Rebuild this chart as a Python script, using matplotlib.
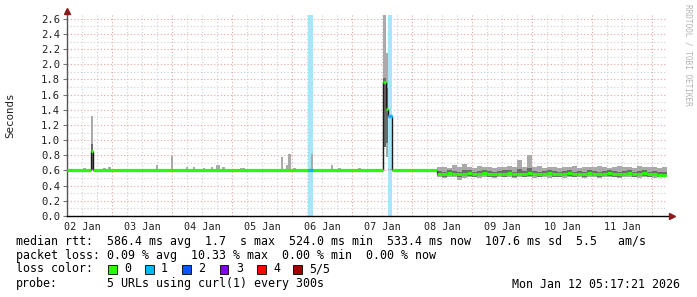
"""SmokePing style latency chart: 10 days of median rtt with smoke and loss colours."""
import numpy as np
import matplotlib.pyplot as plt
from matplotlib.patches import Rectangle

W, H = 697, 297
MONO = "DejaVu Sans Mono"

# --- time axis: days since 02 Jan 00:00 ---
t_start, t_end = 0.245, 10.245
day_labels = ["02 Jan", "03 Jan", "04 Jan", "05 Jan", "06 Jan",
              "07 Jan", "08 Jan", "09 Jan", "10 Jan", "11 Jan"]

# --- quiet stretch (seconds) ---
flat_t0 = [0.245, 0.673, 5.658]
flat_t1 = [0.640, 5.505, 6.412]
flat_med = 0.603
flat_lo, flat_hi = 0.594, 0.614

# small bumps of the upper smoke during the quiet stretch
bump_t0 = [0.507, 0.840, 0.923, 1.423, 1.728, 1.978, 2.228, 2.340, 2.507, 2.645,
           2.728, 2.828, 3.128, 3.807, 3.895, 3.928, 4.012, 4.095, 4.312, 4.395,
           4.645, 4.762, 4.928, 5.095, 5.262]
bump_t1 = [0.562, 0.895, 0.973, 1.728, 1.757, 2.007, 2.262, 2.383, 2.545, 2.673,
           2.795, 2.878, 3.212, 3.840, 3.928, 3.973, 4.062, 4.150, 4.340, 4.507,
           4.678, 4.817, 4.983, 5.150, 5.345]
bump_top = [0.628, 0.628, 0.645, 0.620, 0.670, 0.790, 0.645, 0.645, 0.628, 0.650,
            0.670, 0.650, 0.630, 0.780, 0.670, 0.820, 0.628, 0.625, 0.820, 0.625,
            0.670, 0.628, 0.625, 0.628, 0.625]

# spikes: median, dark smoke, light smoke, loss colour index
spike_t0 = [0.640, 5.505, 5.560, 5.600]
spike_t1 = [0.673, 5.560, 5.600, 5.658]
spike_med = [0.855, 1.770, 1.410, 1.320]
spike_dlo = [0.600, 0.910, 0.960, 0.620]
spike_dhi = [0.950, 1.820, 1.690, 0.620]
spike_lo = [0.600, 0.910, 0.780, 0.600]
spike_hi = [1.320, 2.700, 2.150, 0.620]
spike_loss = [0, 0, 0, 1]

# loss bands (1 of 5 lost)
loss_t0 = [4.262, 5.600]
loss_t1 = [4.345, 5.658]
loss_marker_med = [0.600, 1.320]

# noisy stretch from 08 Jan, 2 h steps
noisy_from, noisy_step = 6.412, 1 / 12
noisy_med = [0.56, 0.55, 0.57, 0.56, 0.55, 0.56, 0.57, 0.55, 0.56, 0.57, 0.56, 0.55,
             0.56, 0.56, 0.57, 0.55, 0.56, 0.55, 0.57, 0.56, 0.55, 0.56, 0.57, 0.56,
             0.55, 0.56, 0.57, 0.55, 0.56, 0.55, 0.57, 0.56, 0.55, 0.56, 0.57, 0.56,
             0.55, 0.56, 0.57, 0.55, 0.56, 0.57, 0.55, 0.56, 0.54, 0.54]
noisy_dlo = [0.53, 0.52, 0.54, 0.53, 0.52, 0.53, 0.53, 0.52, 0.53, 0.54, 0.52, 0.52,
             0.53, 0.52, 0.54, 0.52, 0.53, 0.52, 0.53, 0.53, 0.52, 0.53, 0.54, 0.52,
             0.52, 0.53, 0.53, 0.52, 0.53, 0.52, 0.54, 0.53, 0.52, 0.53, 0.53, 0.52,
             0.52, 0.53, 0.54, 0.52, 0.53, 0.53, 0.52, 0.53, 0.52, 0.52]
noisy_dhi = [0.59, 0.58, 0.60, 0.59, 0.58, 0.60, 0.60, 0.58, 0.59, 0.60, 0.59, 0.58,
             0.59, 0.60, 0.60, 0.58, 0.62, 0.59, 0.63, 0.59, 0.58, 0.59, 0.60, 0.59,
             0.58, 0.59, 0.60, 0.58, 0.59, 0.58, 0.60, 0.59, 0.58, 0.59, 0.60, 0.59,
             0.58, 0.59, 0.60, 0.58, 0.59, 0.60, 0.58, 0.59, 0.58, 0.58]
noisy_lo = [0.51, 0.50, 0.52, 0.51, 0.47, 0.50, 0.51, 0.52, 0.50, 0.51, 0.52, 0.50,
            0.51, 0.52, 0.51, 0.50, 0.51, 0.52, 0.51, 0.50, 0.52, 0.51, 0.50, 0.51,
            0.52, 0.50, 0.51, 0.52, 0.51, 0.50, 0.51, 0.52, 0.50, 0.51, 0.52, 0.51,
            0.50, 0.51, 0.52, 0.51, 0.50, 0.52, 0.51, 0.50, 0.51, 0.52]
noisy_hi = [0.64, 0.65, 0.63, 0.67, 0.64, 0.68, 0.65, 0.63, 0.66, 0.64, 0.65, 0.63,
            0.64, 0.65, 0.66, 0.64, 0.74, 0.65, 0.80, 0.64, 0.66, 0.63, 0.65, 0.64,
            0.63, 0.65, 0.64, 0.66, 0.63, 0.64, 0.65, 0.64, 0.66, 0.65, 0.63, 0.64,
            0.66, 0.64, 0.65, 0.63, 0.66, 0.64, 0.65, 0.64, 0.63, 0.64]

loss_colors = ["#26ff00", "#00b8ff", "#0059ff", "#7e00ff", "#ff0000", "#a10000"]
loss_names = ["0", "1", "2", "3", "4", "5/5"]

stats_line = ("median rtt:  586.4 ms avg  1.7  s max  524.0 ms min  "
              "533.4 ms now  107.6 ms sd  5.5   am/s")
loss_line = "packet loss: 0.09 % avg  10.33 % max  0.00 % min  0.00 % now"
probe_text = "5 URLs using curl(1) every 300s"
stamp = "Mon Jan 12 05:17:21 2026"

LIGHT, DARK = "#aaaaaa", "#6b6b6b"

fig = plt.figure(figsize=(W / 100, H / 100), dpi=100)
fig.patch.set_facecolor("white")
ax = fig.add_axes([67 / W, 81 / H, 600 / W, 201 / H])
ax.set_xlim(t_start, t_end)
ax.set_ylim(0, 2.65)

# --- grid ---
for q in np.arange(1, 41) * 0.25:
    if t_start < q < t_end:
        major = abs(q - round(q)) < 1e-9
        ax.axvline(q, color="#e8a3a3" if major else "#cfcfcf",
                   lw=0.8, ls=(0, (1, 2)), zorder=0)
for v in np.arange(1, 27) * 0.1:
    major = round(v * 10) % 2 == 0
    ax.axhline(v, color="#e8a3a3" if major else "#cfcfcf",
               lw=0.8, ls=(0, (1, 2)), zorder=0)

# --- loss bands ---
for a, b in zip(loss_t0, loss_t1):
    ax.axvspan(a, b, color="#a8e4fb", lw=0, zorder=1)

# --- smoke ---
noisy_t0 = noisy_from + np.arange(len(noisy_med)) * noisy_step
noisy_t1 = noisy_t0 + noisy_step
for a, b in zip(flat_t0, flat_t1):
    ax.bar(a, flat_hi - flat_lo, width=b - a, bottom=flat_lo, align="edge",
           color=LIGHT, lw=0, zorder=2)
for a, b, top in zip(bump_t0, bump_t1, bump_top):
    ax.bar(a, top - flat_med, width=b - a, bottom=flat_med, align="edge",
           color=LIGHT, lw=0, zorder=2)
ax.bar(spike_t0, np.subtract(spike_hi, spike_lo), width=np.subtract(spike_t1, spike_t0),
       bottom=spike_lo, align="edge", color=LIGHT, lw=0, zorder=2)
ax.bar(spike_t0, np.subtract(spike_dhi, spike_dlo), width=np.subtract(spike_t1, spike_t0),
       bottom=spike_dlo, align="edge", color=DARK, lw=0, zorder=3)
ax.bar(noisy_t0, np.subtract(noisy_hi, noisy_lo), width=noisy_step,
       bottom=noisy_lo, align="edge", color=LIGHT, lw=0, zorder=2)
ax.bar(noisy_t0, np.subtract(noisy_dhi, noisy_dlo), width=noisy_step,
       bottom=noisy_dlo, align="edge", color=DARK, lw=0, zorder=3)

# --- median ---
seg_t0 = list(flat_t0) + list(spike_t0) + list(noisy_t0)
seg_t1 = list(flat_t1) + list(spike_t1) + list(noisy_t1)
seg_med = [flat_med] * len(flat_t0) + list(spike_med) + list(noisy_med)
seg_col = ([loss_colors[0]] * len(flat_t0) + [loss_colors[i] for i in spike_loss]
           + [loss_colors[0]] * len(noisy_med))
order = np.argsort(seg_t0)
for i, j in zip(order[:-1], order[1:]):
    if abs(seg_med[i] - seg_med[j]) > 0.03:
        ax.vlines(seg_t1[i], min(seg_med[i], seg_med[j]), max(seg_med[i], seg_med[j]),
                  color="#1a1a1a", lw=1.0, zorder=4)
for k in order:
    ax.hlines(seg_med[k], seg_t0[k], seg_t1[k], color=seg_col[k], lw=2.3, zorder=5)
for a, b, m in zip(loss_t0, loss_t1, loss_marker_med):
    ax.hlines(m, a, b, color=loss_colors[1], lw=2.3, zorder=6)

# --- axes, ticks, arrows ---
for s in ax.spines.values():
    s.set_visible(False)
ax.plot([0, 0], [0, 1.01], transform=ax.transAxes, color="#555555", lw=1, clip_on=False)
ax.plot([0, 1.003], [0, 0], transform=ax.transAxes, color="black", lw=1, clip_on=False)
ax.plot([0], [1.02], transform=ax.transAxes, marker="^", ms=4.5, color="#8b1a1a",
        clip_on=False)
ax.plot([1.008], [0], transform=ax.transAxes, marker=">", ms=4.5, color="#8b1a1a",
        clip_on=False)

yt = np.round(np.arange(0, 14) * 0.2, 1)
ax.set_yticks(yt, [f"{v:.1f}" for v in yt])
ax.tick_params(axis="y", length=3, width=0.8, color="#777777", pad=2,
               labelsize=7.6, labelcolor="#222222")
ax.set_xticks(np.arange(len(day_labels)) + 0.5, day_labels)
ax.tick_params(axis="x", length=0, pad=4, labelsize=7.3, labelcolor="#222222")
for lab in ax.get_xticklabels() + ax.get_yticklabels():
    lab.set_family(MONO)

fig.text(10 / W, 1 - 115 / H, "Seconds", rotation=90, ha="center", va="center",
         family=MONO, fontsize=7.8, color="#222222")
fig.text(688 / W, 1 - 4 / H, "RRDTOOL / TOBI OETIKER", rotation=270, ha="center",
         va="top", family=MONO, fontsize=5.6, color="#b3b3b3")

# --- legend block ---
def ftext(x, y, s, **kw):
    fig.text(x / W, 1 - y / H, s, family=MONO, fontsize=8.4, color="black",
             va="center", **kw)

ftext(16, 241, stats_line)
ftext(16, 255, loss_line)
ftext(16, 269, "loss color:")
sq_x = [108, 145, 182, 220, 257, 293]
for x, c, name in zip(sq_x, loss_colors, loss_names):
    fig.patches.append(Rectangle((x / W, 1 - 273.5 / H), 8.5 / W, 9 / H,
                                 transform=fig.transFigure, facecolor=c,
                                 edgecolor="black", lw=0.6))
    ftext(x + 16, 269, name)
ftext(16, 284, "probe:")
ftext(107, 284, probe_text)
ftext(680, 284, stamp, ha="right")

fig.savefig("out.png", dpi=100, facecolor="white")
